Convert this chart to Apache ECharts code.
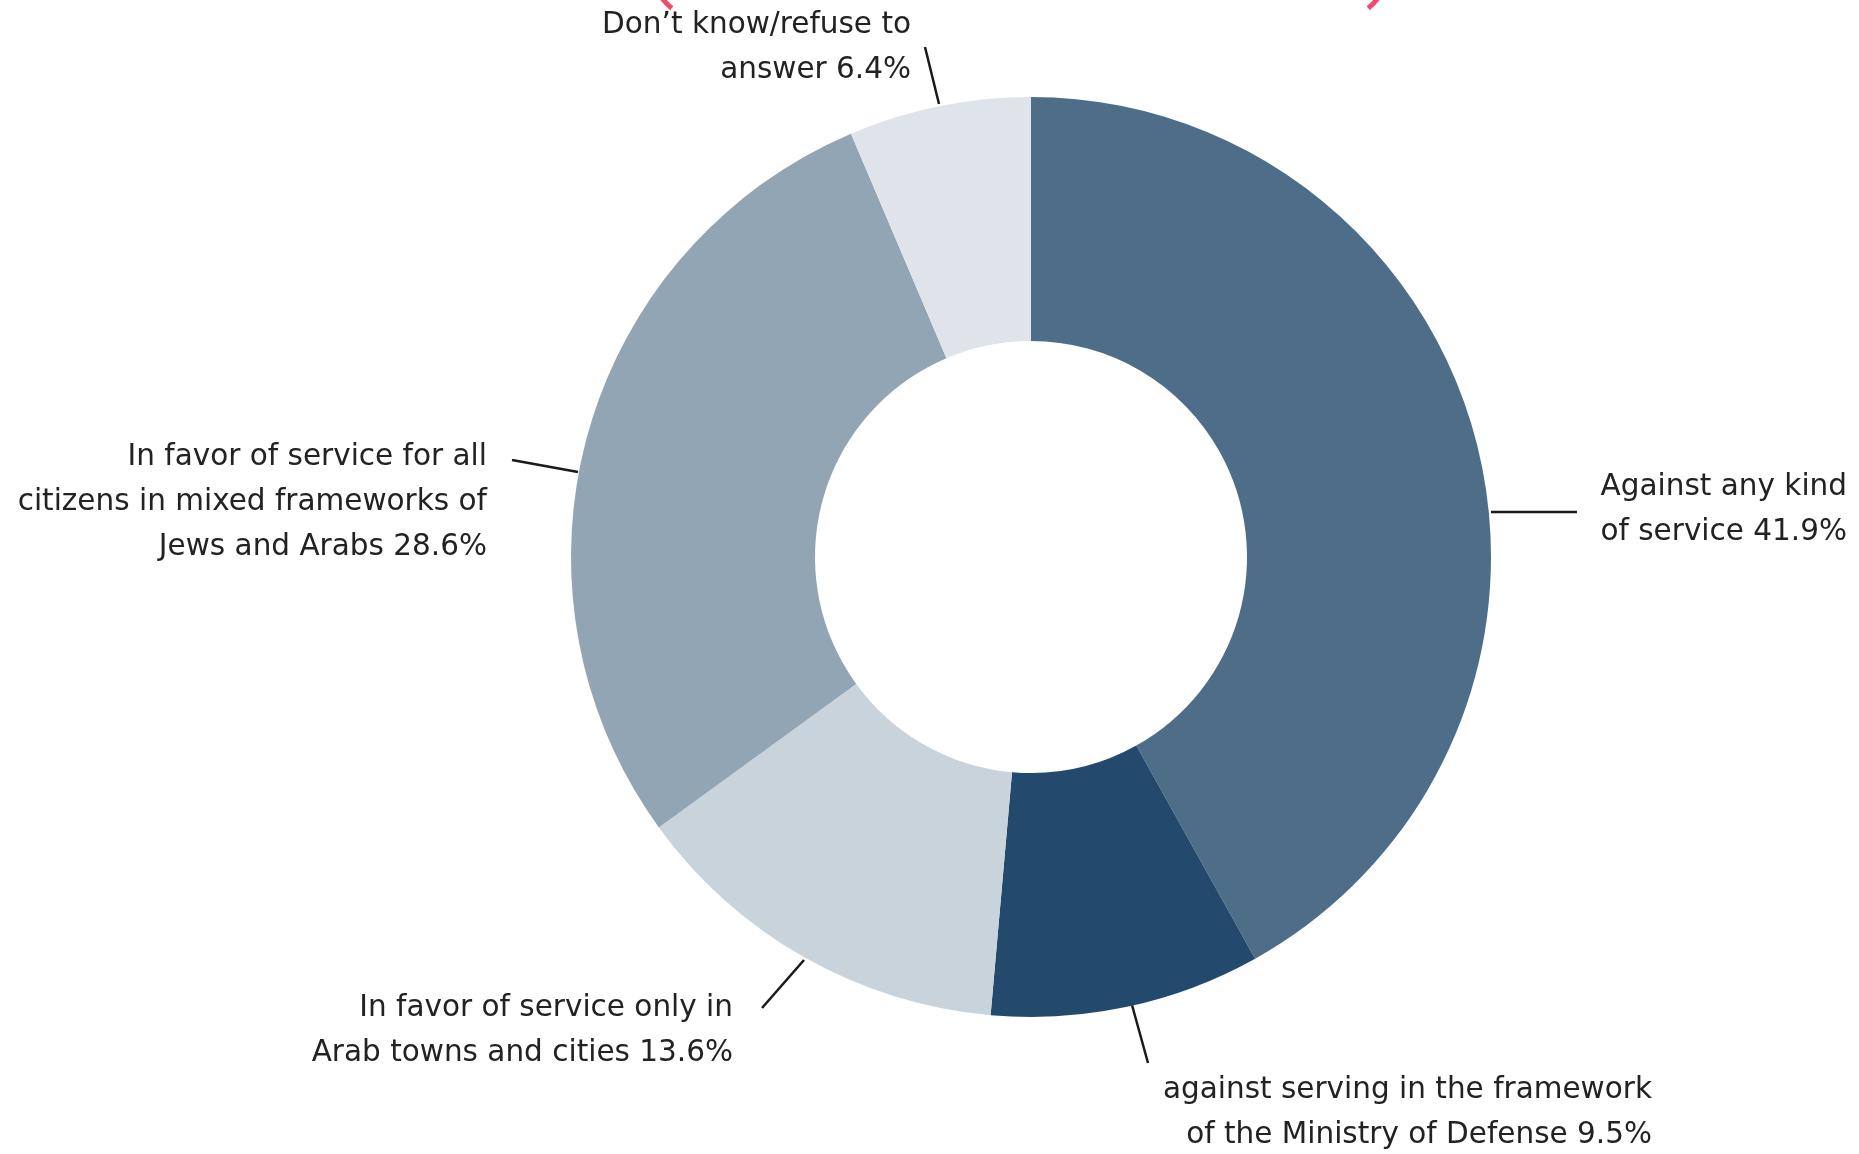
<!DOCTYPE html>
<html>
<head>
<meta charset="utf-8">
<script src="https://cdn.jsdelivr.net/npm/echarts@6/dist/echarts.min.js"></script>
<style>
html,body{margin:0;padding:0;background:#fff;}
#chart{width:1859px;height:1154px;}
</style>
</head>
<body>
<div id="chart"></div>
<script>
const categories = [
  "Against any kind\nof service",
  "against serving in the framework\nof the Ministry of Defense",
  "In favor of service only in\nArab towns and cities",
  "In favor of service for all\ncitizens in mixed frameworks of\nJews and Arabs",
  "Don\u2019t know/refuse to\nanswer"
];
const values = [41.9, 9.5, 13.6, 28.6, 6.4];
const colors = ["#4e6d89", "#234a6c", "#c8d3dc", "#92a5b5", "#dfe4ea"];

// label placement (right edge x, block center y) and leader line ends
const labelPlace = [
  {x: 1847, y: 510, line: [[1491, 512], [1577, 512]]},
  {x: 1652, y: 1113, line: [[1132, 1005], [1148, 1063]]},
  {x: 733, y: 1031, line: [[804, 960], [762, 1008]]},
  {x: 487, y: 502, line: [[578, 472], [512, 460]]},
  {x: 911, y: 48, line: [[939, 104], [925, 47]]}
];

const chart = echarts.init(document.getElementById('chart'), null, {renderer: 'canvas'});
chart.setOption({
  backgroundColor: '#ffffff',
  animation: false,
  graphic: [
    {type: 'arc', shape: {cx: 710, cy: -38, r: 60, startAngle: Math.PI * 0.72, endAngle: Math.PI * 0.9},
     style: {stroke: '#ee4d6a', lineWidth: 5, fill: null}},
    {type: 'arc', shape: {cx: 1330, cy: -38, r: 60, startAngle: Math.PI * 0.1, endAngle: Math.PI * 0.28},
     style: {stroke: '#ee4d6a', lineWidth: 5, fill: null}}
  ],
  series: [{
    type: 'pie',
    center: [1031, 557],
    radius: [216, 460],
    startAngle: 90,
    clockwise: true,
    avoidLabelOverlap: false,
    data: categories.map((c, i) => ({name: c, value: values[i], itemStyle: {color: colors[i]}})),
    label: {
      show: true,
      position: 'outside',
      formatter: p => p.name + ' ' + p.value.toFixed(1) + '%',
      fontFamily: 'DejaVu Sans',
      fontSize: 29.5,
      lineHeight: 45,
      color: '#222222',
      align: 'right'
    },
    labelLine: {
      show: true,
      length: 20,
      length2: 20,
      lineStyle: {color: '#1a1a1a', width: 2.5}
    },
    labelLayout: function (params) {
      const p = labelPlace[params.dataIndex];
      return {
        x: p.x,
        y: p.y,
        align: 'right',
        verticalAlign: 'middle',
        labelLinePoints: [p.line[0], p.line[1], p.line[1]]
      };
    },
    emphasis: {disabled: true}
  }]
});
</script>
</body>
</html>
